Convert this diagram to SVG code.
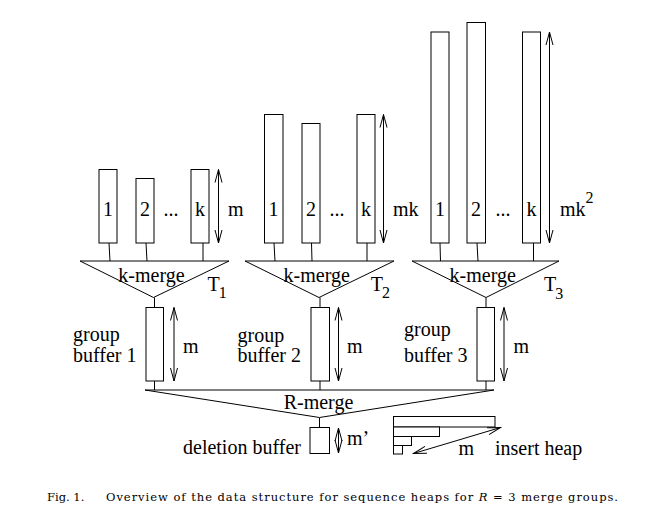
<svg xmlns="http://www.w3.org/2000/svg" width="660" height="515" viewBox="0 0 660 515" font-family="Liberation Serif, Times New Roman, serif" font-size="20">
<style>
rect, polygon { fill: #fff; stroke: #000; stroke-width: 1; }
line { stroke: #000; stroke-width: 1; }
.dim { stroke: #000; stroke-width: 1; marker-start: url(#ah); marker-end: url(#ah); }
.c { text-anchor: middle; }
.s { font-size: 16px; }
</style>
<defs>
<marker id="ah" viewBox="-14 -5 15 10" refX="0" refY="0" markerWidth="15" markerHeight="10" markerUnits="userSpaceOnUse" orient="auto-start-reverse">
<path d="M-13,-3.5 L0,0 L-13,3.5" fill="none" stroke="#000" stroke-width="1"/>
</marker>
</defs>

<g id="connectors">
<line x1="109" y1="243" x2="110" y2="261"/>
<line x1="146" y1="243" x2="147" y2="261"/>
<line x1="203" y1="243" x2="203" y2="261"/>
<line x1="274" y1="243" x2="275" y2="261"/>
<line x1="311.5" y1="243" x2="312" y2="261"/>
<line x1="367" y1="243" x2="367" y2="261"/>
<line x1="440" y1="243" x2="440.5" y2="261"/>
<line x1="477" y1="243" x2="478" y2="261"/>
<line x1="533.5" y1="243" x2="533.5" y2="261"/>
<line x1="154.5" y1="297.5" x2="154.5" y2="307.5"/>
<line x1="320" y1="297.5" x2="320" y2="307.5"/>
<line x1="486" y1="297.5" x2="486" y2="307.5"/>
<line x1="154.5" y1="381" x2="154.5" y2="390"/>
<line x1="320" y1="381" x2="320" y2="390"/>
<line x1="486" y1="381" x2="486" y2="390"/>
<line x1="319.5" y1="417.5" x2="319.5" y2="427.5"/>
</g>

<g id="group1-runs">
<rect x="99" y="169.5" width="18" height="73.5"/>
<rect x="136" y="178.5" width="18" height="64.5"/>
<rect x="191" y="169.5" width="18" height="73.5"/>
<text class="c" x="108" y="216">1</text>
<text class="c" x="145" y="216">2</text>
<text class="c" x="171" y="216">...</text>
<text class="c" x="200" y="216">k</text>
<line class="dim" x1="218.5" y1="169.5" x2="218.5" y2="243"/>
<text x="228" y="216">m</text>
</g>

<g id="group2-runs">
<rect x="264.5" y="114.5" width="18.5" height="128.5"/>
<rect x="302" y="123.5" width="18" height="119.5"/>
<rect x="357" y="114.5" width="18" height="128.5"/>
<text class="c" x="273.5" y="216">1</text>
<text class="c" x="311" y="216">2</text>
<text class="c" x="337" y="216">...</text>
<text class="c" x="366" y="216">k</text>
<line class="dim" x1="383.5" y1="114.5" x2="383.5" y2="243"/>
<text x="393" y="216">mk</text>
</g>

<g id="group3-runs">
<rect x="431" y="32" width="18" height="211"/>
<rect x="467" y="22.5" width="18.5" height="220.5"/>
<rect x="522.5" y="32" width="18" height="211"/>
<text class="c" x="440" y="216">1</text>
<text class="c" x="476" y="216">2</text>
<text class="c" x="503" y="216">...</text>
<text class="c" x="531.5" y="216">k</text>
<line class="dim" x1="549.5" y1="32" x2="549.5" y2="243"/>
<text x="560" y="216">mk<tspan class="s" dy="-13">2</tspan></text>
</g>

<g id="kmerge1">
<polygon points="80,261 229,261 153.5,297.5"/>
<text class="c" x="151.5" y="282">k-merge</text>
<text x="207.5" y="290.5">T<tspan class="s" dx="-1" dy="7.5">1</tspan></text>
</g>

<g id="kmerge2">
<polygon points="245,261 394,261 319,297.5"/>
<text class="c" x="316.7" y="282">k-merge</text>
<text x="370.7" y="290.5">T<tspan class="s" dx="-1" dy="7.5">2</tspan></text>
</g>

<g id="kmerge3">
<polygon points="412,261 559,261 486,297.5"/>
<text class="c" x="482.7" y="282">k-merge</text>
<text x="544" y="291">T<tspan class="s" dx="-1" dy="7.5">3</tspan></text>
</g>

<g id="groupbuffer1">
<rect x="146" y="307.5" width="17.5" height="73.5"/>
<line class="dim" x1="174" y1="307.5" x2="174" y2="381"/>
<text x="183" y="353">m</text>
<text x="73" y="341">group</text>
<text x="73" y="361.5">buffer 1</text>
</g>

<g id="groupbuffer2">
<rect x="311" y="307.5" width="18.5" height="73.5"/>
<line class="dim" x1="338.5" y1="307.5" x2="338.5" y2="381"/>
<text x="347" y="353">m</text>
<text x="237.5" y="341.5">group</text>
<text x="237.5" y="362">buffer 2</text>
</g>

<g id="groupbuffer3">
<rect x="477" y="307.5" width="17.5" height="73.5"/>
<line class="dim" x1="504" y1="307.5" x2="504" y2="381"/>
<text x="513.5" y="353">m</text>
<text x="404" y="336">group</text>
<text x="404" y="361.5">buffer 3</text>
</g>

<g id="rmerge">
<polygon points="145,390 494,390 319.5,417.5"/>
<text class="c" x="318.5" y="408.5">R-merge</text>
</g>

<g id="deletionbuffer">
<rect x="310" y="427.5" width="19.5" height="26"/>
<line class="dim" x1="338.5" y1="428" x2="338.5" y2="453"/>
<text x="347" y="445">m’</text>
<text x="183" y="453.5">deletion buffer</text>
</g>

<g id="insertheap">
<rect x="393.5" y="416.5" width="101.5" height="10.5"/>
<rect x="393.5" y="427" width="46" height="9.5"/>
<rect x="393.5" y="436.5" width="18" height="9"/>
<rect x="393.5" y="445.5" width="9" height="8.5"/>
<line class="dim" x1="413.5" y1="453.5" x2="500.5" y2="427.5"/>
<text x="458.5" y="455">m</text>
<text x="495" y="455">insert heap</text>
</g>

<g id="caption" font-family="DejaVu Serif, Liberation Serif, serif" font-size="11.5">
<text x="47" y="501">Fig. 1.</text>
<text x="106" y="501" textLength="512" lengthAdjust="spacing">Overview of the data structure for sequence heaps for <tspan font-style="italic">R</tspan> = 3 merge groups.</text>
</g>
</svg>
